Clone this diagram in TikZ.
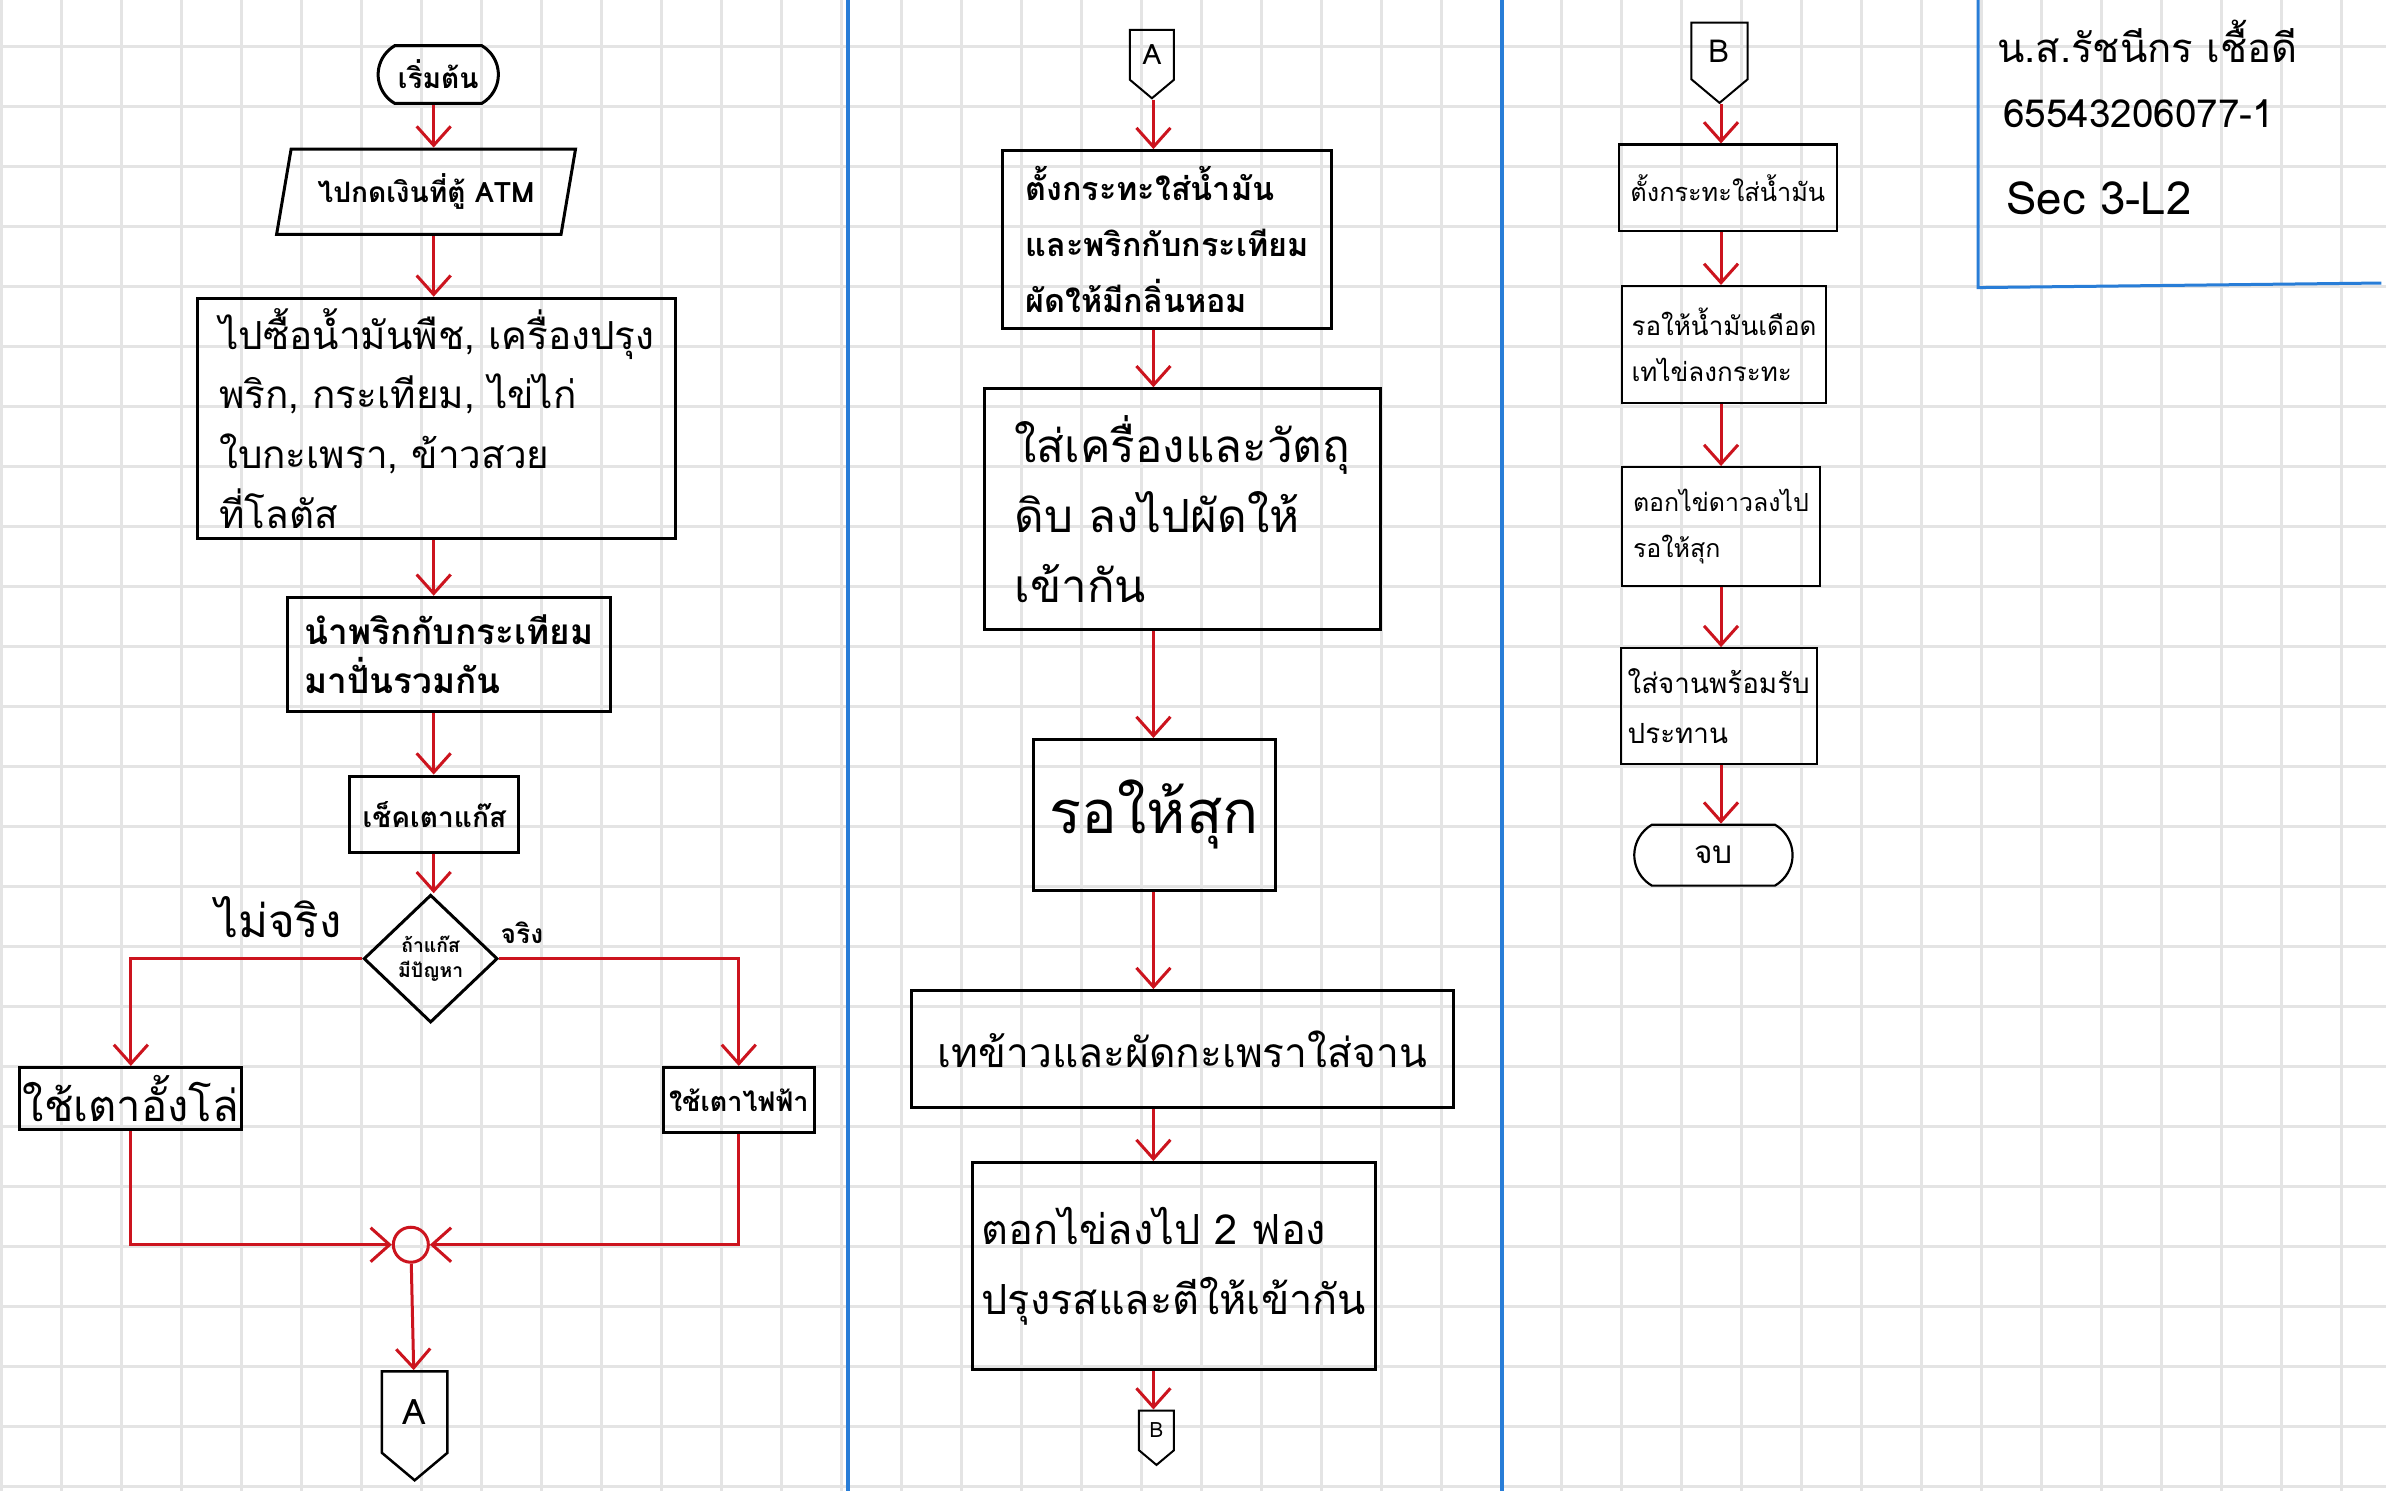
\documentclass[tikz,border=0pt]{standalone}
\usepackage{fontspec}
\setmainfont[Script=Thai]{Loma}
\usetikzlibrary{shapes.geometric, shapes.misc, shapes.symbols, arrows.meta, positioning}
\newcommand{\px}{0.15217mm}
\definecolor{penred}{RGB}{204,20,30}
\definecolor{penblue}{RGB}{40,125,215}
\definecolor{gridgray}{RGB}{228,228,228}

\begin{document}
\begin{tikzpicture}[
		x=0.15217mm, y=-0.15217mm,
		every node/.style={inner sep=0pt},
		box/.style={rectangle, draw, line width=0.3mm, align=left},
		smallbox/.style={box, line width=0.22mm},
		term/.style={rounded rectangle, rounded rectangle arc length=120, draw, line width=0.3mm},
		io/.style={trapezium, trapezium left angle=72, trapezium right angle=108, trapezium stretches=true, draw, line width=0.3mm},
		choice/.style={diamond, draw, line width=0.3mm, align=center},
		offpage/.style={signal, signal to=south, signal from=nowhere, signal pointer angle=100, draw, line width=0.25mm},
		flow/.style={draw=penred, line width=0.3mm, -{Straight Barb[length=1.9mm, width=3.4mm]}},
		gridline/.style={gridgray, line width=0.3mm},
		sep/.style={penblue, line width=0.4mm}
	]
  \useasboundingbox (0,0) rectangle (1568,980);
  \fill[white] (0,0) rectangle (1568,980);
  \foreach \i in {0,...,39} \draw[gridline] (1.1+39.43*\i,0) -- (1.1+39.43*\i,980);
  \foreach \j in {0,...,24} \draw[gridline] (0,30.7+39.43*\j) -- (1568,30.7+39.43*\j);
  \draw[sep] (557,0) -- (557,980);
  \draw[sep] (987,0) -- (987,980);
  \draw[penblue, line width=0.3mm] (1300,0) -- (1300,189) -- (1565,186);

  % left page
  \node (start) [term, minimum width=79*\px, minimum height=38*\px, font={\bfseries\fontsize{8}{10}\selectfont}] at (288,49) {เริ่มต้น};
  \node (atm) [io, minimum width=197*\px, minimum height=56*\px, font={\bfseries\fontsize{8}{10}\selectfont}] at (280,126) {ไปกดเงินที่ตู้ ATM};
  \node (buy) [box, minimum width=314*\px, minimum height=158*\px, font={\fontsize{11}{17}\selectfont}] at (287,275) {ไปซื้อน้ำมันพืช, เครื่องปรุง\\พริก, กระเทียม, ไข่ไก่\\ใบกะเพรา, ข้าวสวย\\ที่โลตัส};
  \node (mix) [box, minimum width=212*\px, minimum height=75*\px, font={\bfseries\fontsize{10}{14}\selectfont}] at (295,430) {นำพริกกับกระเทียม\\มาปั่นรวมกัน};
  \node (check) [box, minimum width=111*\px, minimum height=50*\px, font={\bfseries\fontsize{8}{10}\selectfont}] at (285.5,535) {เช็คเตาแก๊ส};
  \node (gas) [choice, minimum width=88*\px, minimum height=84*\px, font={\bfseries\fontsize{5.5}{7}\selectfont}] at (283,630) {ถ้าแก๊ส\\มีปัญหา};
  \node (no) [font={\fontsize{13}{15}\selectfont}] at (183,603) {ไม่จริง};
  \node (yes) [font={\bfseries\fontsize{7.5}{9}\selectfont}] at (343,613) {จริง};
  \node (coal) [box, minimum width=146*\px, minimum height=41*\px, font={\fontsize{12.4}{14}\selectfont}] at (86,722) {ใช้เตาอั้งโล่};
  \node (stove) [box, minimum width=99*\px, minimum height=43*\px, font={\bfseries\fontsize{7.7}{9}\selectfont}] at (485.5,723) {ใช้เตาไฟฟ้า};
  \node (join) [circle, draw=penred, line width=0.3mm, minimum size=23*\px] at (270,818) {};
  \node (outA) [offpage, minimum width=43*\px, minimum height=60*\px, font={\fontsize{10}{12}\selectfont}] at (272.5,928) {A};
  \coordinate (colL) at (285,0);
  \draw[flow] (start.south -| colL) -- (atm.north -| colL);
  \draw[flow] (atm.south -| colL) -- (buy.north -| colL);
  \draw[flow] (buy.south -| colL) -- (mix.north -| colL);
  \draw[flow] (mix.south -| colL) -- (check.north -| colL);
  \draw[flow] (check.south -| colL) -- (gas.north -| colL);
  \draw[flow] (gas.west) -| (coal.north);
  \draw[flow] (gas.east) -| (stove.north);
  \draw[flow] (coal.south) |- (join.west);
  \draw[flow] (stove.south) |- (join.east);
  \draw[flow] (join) -- (outA);

  % middle page
  \node (inA) [offpage, line width=0.2mm, minimum width=29*\px, minimum height=38*\px, font={\fontsize{8}{10}\selectfont}] at (757,36) {A};
  \node (heat) [box, minimum width=216*\px, minimum height=117*\px, font={\bfseries\fontsize{9.2}{16}\selectfont}] at (767,157.5) {ตั้งกระทะใส่น้ำมัน\\และพริกกับกระเทียม\\ผัดให้มีกลิ่นหอม};
  \node (fry) [box, minimum width=260*\px, minimum height=158*\px, font={\fontsize{13}{20}\selectfont}] at (777,334.5) {ใส่เครื่องและวัตถุ\\ดิบ ลงไปผัดให้\\เข้ากัน};
  \node (cook) [box, minimum width=159*\px, minimum height=99*\px, font={\fontsize{17}{20}\selectfont}] at (758.5,535.5) {รอให้สุก};
  \node (dish) [box, minimum width=356*\px, minimum height=77*\px, font={\fontsize{11.6}{14}\selectfont}] at (777,689.5) {เทข้าวและผัดกะเพราใส่จาน};
  \node (egg) [box, minimum width=265*\px, minimum height=136*\px, font={\fontsize{11.8}{20}\selectfont}] at (771.5,832) {ตอกไข่ลงไป 2 ฟอง\\ปรุงรสและตีให้เข้ากัน};
  \node (outB) [offpage, line width=0.2mm, minimum width=23*\px, minimum height=30*\px, font={\fontsize{6}{7}\selectfont}] at (760,940) {B};
  \coordinate (colM) at (758,0);
  \draw[flow] (inA.south -| colM) -- (heat.north -| colM);
  \draw[flow] (heat.south -| colM) -- (fry.north -| colM);
  \draw[flow] (fry.south -| colM) -- (cook.north -| colM);
  \draw[flow] (cook.south -| colM) -- (dish.north -| colM);
  \draw[flow] (dish.south -| colM) -- (egg.north -| colM);
  \draw[flow] (egg.south -| colM) -- (outB.north -| colM);

  % right page
  \node (inB) [offpage, line width=0.2mm, minimum width=37*\px, minimum height=43*\px, font={\fontsize{9}{11}\selectfont}] at (1130,33.5) {B};
  \node (pan) [smallbox, minimum width=143*\px, minimum height=57*\px, font={\fontsize{7.2}{10}\selectfont}] at (1135.5,123.5) {ตั้งกระทะใส่น้ำมัน};
  \node (boil) [smallbox, minimum width=134*\px, minimum height=77*\px, font={\fontsize{7.4}{13}\selectfont}] at (1133,226.5) {รอให้น้ำมันเดือด\\เทไข่ลงกระทะ};
  \node (fried) [smallbox, minimum width=130*\px, minimum height=78*\px, font={\fontsize{7.1}{13}\selectfont}] at (1131,346) {ตอกไข่ดาวลงไป\\รอให้สุก};
  \node (serve) [smallbox, minimum width=129*\px, minimum height=76*\px, font={\fontsize{7.9}{14}\selectfont}] at (1129.5,464) {ใส่จานพร้อมรับ\\ประทาน};
  \node (stop) [term, line width=0.22mm, minimum width=104*\px, minimum height=40*\px, font={\fontsize{9}{11}\selectfont}] at (1126,562) {จบ};
  \coordinate (colR) at (1131,0);
  \draw[flow] (inB.south -| colR) -- (pan.north -| colR);
  \draw[flow] (pan.south -| colR) -- (boil.north -| colR);
  \draw[flow] (boil.south -| colR) -- (fried.north -| colR);
  \draw[flow] (fried.south -| colR) -- (serve.north -| colR);
  \draw[flow] (serve.south -| colR) -- (stop.north -| colR);

  \node (owner) [anchor=west, font={\fontsize{11.4}{14}\selectfont}] at (1312,27) {น.ส.รัชนีกร เชื้อดี};
  \node (sid) [anchor=west, font={\fontsize{11}{14}\selectfont}] at (1316,75) {65543206077-1};
  \node (sec) [anchor=west, font={\fontsize{13}{17}\selectfont}] at (1318,130) {Sec 3-L2};
\end{tikzpicture}
\end{document}
